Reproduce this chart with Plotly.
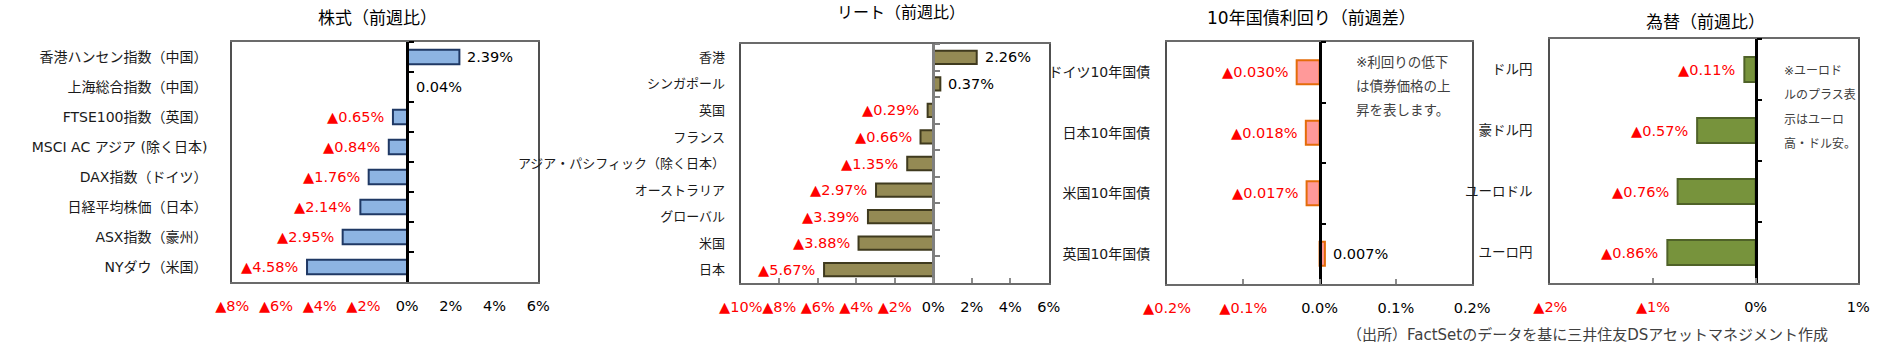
import plotly.graph_objects as go

W, H = 1890, 345
FONT = "DejaVu Sans, Noto Sans CJK JP, sans-serif"
RED = "#FF0000"

# ---------------- data ----------------
stock_cats = ["香港ハンセン指数（中国）", "上海総合指数（中国）", "FTSE100指数（英国）",
              "MSCI AC アジア (除く日本)", "DAX指数（ドイツ）", "日経平均株価（日本）",
              "ASX指数（豪州）", "NYダウ（米国）"]
stock_vals = [2.39, 0.04, -0.65, -0.84, -1.76, -2.14, -2.95, -4.58]
stock_ticks = [-8, -6, -4, -2, 0, 2, 4, 6]

reit_cats = ["香港", "シンガポール", "英国", "フランス", "アジア・パシフィック（除く日本）",
             "オーストラリア", "グローバル", "米国", "日本"]
reit_vals = [2.26, 0.37, -0.29, -0.66, -1.35, -2.97, -3.39, -3.88, -5.67]
reit_ticks = [-10, -8, -6, -4, -2, 0, 2, 4, 6]

bond_cats = ["ドイツ10年国債", "日本10年国債", "米国10年国債", "英国10年国債"]
bond_vals = [-0.030, -0.018, -0.017, 0.007]
bond_ticks = [-0.2, -0.1, 0.0, 0.1, 0.2]

fx_cats = ["ドル円", "豪ドル円", "ユーロドル", "ユーロ円"]
fx_vals = [-0.11, -0.57, -0.76, -0.86]
fx_ticks = [-2, -1, 0, 1]

titles = ["株式（前週比）", "リート（前週比）", "10年国債利回り（前週差）", "為替（前週比）"]
bond_note = ["※利回りの低下", "は債券価格の上", "昇を表します。"]
fx_note = ["※ユーロド", "ルのプラス表", "示はユーロ", "高・ドル安。"]
source_text = "（出所）FactSetのデータを基に三井住友DSアセットマネジメント作成"

# ---------------- panel styling ----------------
panels = [
    dict(cats=stock_cats, vals=stock_vals, ticks=stock_ticks, tdec=0, vdec=2,
         fill="#8DB4E2", edge="#1F3864", zc="#000000", box=(213, 526, 42, 282),
         bw=0.48, cfs=14, stand=20, xt="", title_xy=(362, 18), tfs=17),
    dict(cats=reit_cats, vals=reit_vals, ticks=reit_ticks, tdec=0, vdec=2,
         fill="#948A54", edge="#3F3A1E", zc="#7F7F7F", box=(733, 1048, 44, 283),
         bw=0.5, cfs=13, stand=11, xt="inside", title_xy=(897, 13), tfs=16),
    dict(cats=bond_cats, vals=bond_vals, ticks=bond_ticks, tdec=1, vdec=3,
         fill="#FF9999", edge="#E46C0A", zc="#000000", box=(1169, 1481, 42, 284),
         bw=0.4, cfs=14, stand=12, xt="inside", title_xy=(1317, 18), tfs=17),
    dict(cats=fx_cats, vals=fx_vals, ticks=fx_ticks, tdec=0, vdec=2,
         fill="#77933C", edge="#4F6228", zc="#000000", box=(1561, 1876, 39, 283),
         bw=0.41, cfs=13.5, stand=13, xt="inside", title_xy=(1720, 22), tfs=17),
]


def ref(p, n):
    return p if n == 1 else f"{p}{n}"


def key(p, n):
    return f"{p}axis" if n == 1 else f"{p}axis{n}"


def tick_text(t, d):
    if t < 0:
        return f"<span style='color:{RED}'>▲{abs(t):.{d}f}%</span>"
    return f"{t:.{d}f}%"


fig = go.Figure()
layout = dict(
    width=W, height=H, autosize=False,
    margin=dict(l=0, r=0, t=0, b=0),
    paper_bgcolor="white", plot_bgcolor="white",
    showlegend=False, hovermode=False,
    font=dict(family=FONT, color="#000000"),
)
annotations = []

for i, p in enumerate(panels):
    xn, yl, yz = i + 1, 2 * i + 1, 2 * i + 2
    xr, ylr, yzr = ref("x", xn), ref("y", yl), ref("y", yz)
    x0, x1, yt, yb = p["box"]
    n = len(p["cats"])
    r0, r1 = p["ticks"][0], p["ticks"][-1]

    fig.add_trace(go.Bar(
        x=p["vals"], y=p["cats"], orientation="h", xaxis=xr, yaxis=ylr,
        width=p["bw"], marker=dict(color=p["fill"], line=dict(color=p["edge"], width=2)),
        hoverinfo="skip"))
    fig.add_trace(go.Scatter(
        x=[0] * n, y=p["cats"], mode="markers", xaxis=xr, yaxis=yzr,
        marker=dict(opacity=0), hoverinfo="skip"))

    layout[key("x", xn)] = dict(
        domain=[x0 / W, x1 / W], anchor=ylr, range=[r0, r1],
        tickvals=p["ticks"], ticktext=[tick_text(t, p["tdec"]) for t in p["ticks"]],
        tickangle=0,
        showline=True, mirror=True, linecolor="#6B6B6B", linewidth=2,
        showgrid=False, zeroline=False, ticks=p["xt"], ticklen=5, tickwidth=1.5,
        tickcolor="#8C8C8C", tickfont=dict(size=14.5, color="#000000"),
        ticklabelstandoff=10, fixedrange=True)
    common_y = dict(type="category", categoryarray=p["cats"], range=[n - 0.5, -0.5],
                    showgrid=False, zeroline=False, fixedrange=True)
    layout[key("y", yl)] = dict(
        domain=[1 - yb / H, 1 - yt / H], anchor=xr,
        showline=True, mirror=True, linecolor="#505050", linewidth=2,
        ticks="", ticklabelstandoff=p["stand"],
        tickfont=dict(size=p["cfs"], color="#1A1A1A"), **common_y)
    zero_pos = (x0 + (0 - r0) / (r1 - r0) * (x1 - x0)) / W
    layout[key("y", yz)] = dict(
        overlaying=ylr, anchor="free", position=zero_pos, side="right",
        showline=True, linecolor=p["zc"], linewidth=2.5,
        ticks="outside", ticklen=5, tickwidth=2, tickcolor=p["zc"],
        tickson="boundaries", showticklabels=False, **common_y)

    for c, v in zip(p["cats"], p["vals"]):
        if v >= 0:
            txt, col, xa, xs = f"{v:.{p['vdec']}f}%", "#000000", "left", 6
        else:
            txt, col, xa, xs = f"▲{abs(v):.{p['vdec']}f}%", RED, "right", -7
        annotations.append(dict(
            x=v, y=c, xref=xr, yref=ylr, text=txt, showarrow=False,
            xanchor=xa, xshift=xs, font=dict(size=14.5, color=col)))

    tx, ty = p["title_xy"]
    annotations.append(dict(
        x=tx / W, y=1 - ty / H, xref="paper", yref="paper", text=titles[i],
        showarrow=False, xanchor="center", yanchor="middle",
        font=dict(size=p["tfs"], color="#000000")))

for j, line in enumerate(bond_note):
    annotations.append(dict(
        x=1360 / W, y=1 - (62 + 24 * j) / H, xref="paper", yref="paper", text=line,
        showarrow=False, xanchor="left", yanchor="middle",
        font=dict(size=13.5, color="#404040")))
for j, line in enumerate(fx_note):
    annotations.append(dict(
        x=1798 / W, y=1 - (71 + 24.3 * j) / H, xref="paper", yref="paper", text=line,
        showarrow=False, xanchor="left", yanchor="middle",
        font=dict(size=12, color="#404040")))

annotations.append(dict(
    x=1847 / W, y=1 - 335 / H, xref="paper", yref="paper", text=source_text,
    showarrow=False, xanchor="right", yanchor="middle",
    font=dict(size=15, color="#404040")))

layout["annotations"] = annotations
fig.update_layout(**layout)
fig.write_html(
    "out.html",
    config={"displayModeBar": False},
    post_script="document.body.style.margin='0';document.body.style.overflow='hidden';",
)
